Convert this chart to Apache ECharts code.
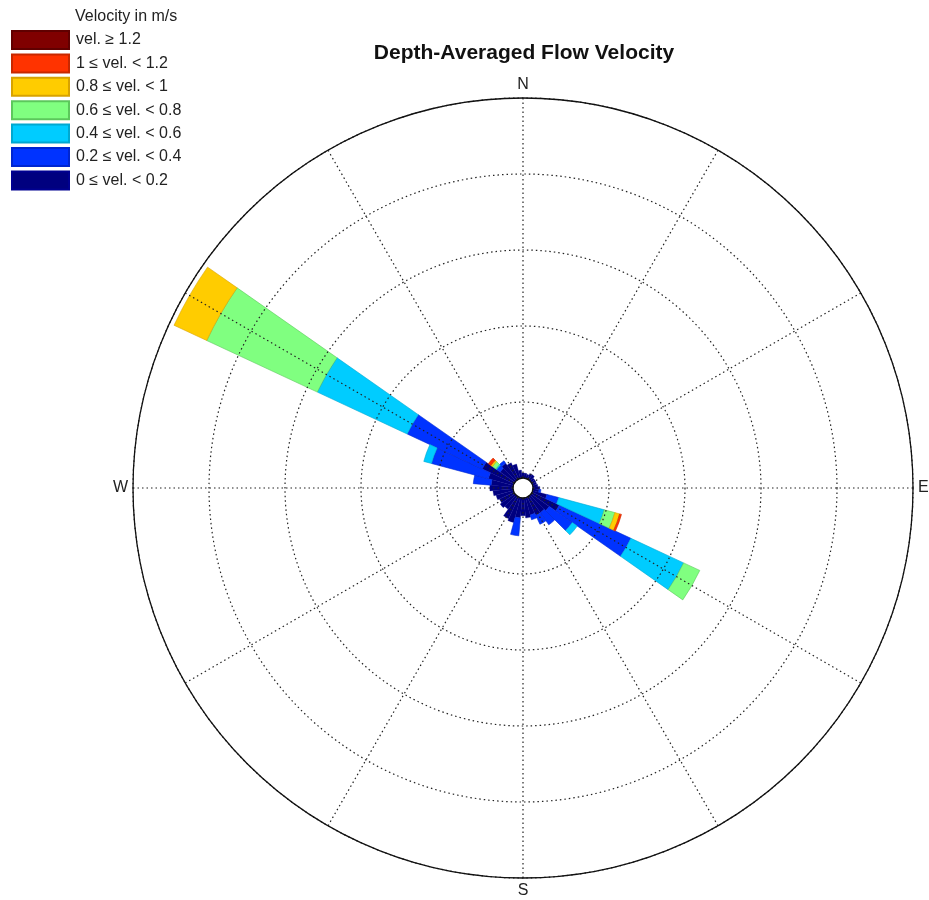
<!DOCTYPE html>
<html><head><meta charset="utf-8">
<script src="https://cdn.jsdelivr.net/npm/echarts@6/dist/echarts.min.js"></script>
<style>html,body{margin:0;padding:0;background:#fff}#c{width:929px;height:900px}</style>
</head><body><div id="c"></div>
<script>
// Direction bins (degrees, clockwise from North)
const directions = [0,10,20,30,40,50,60,70,80,90,100,110,120,130,140,150,160,170,180,190,200,210,220,230,240,250,260,270,280,290,300,310,320,330,340,350];
// Stacked frequency increments per velocity class (radial units, outer ring = 10)
const vel0to02 = [0.13,0.13,0.11,0.16,0.16,0.11,0.11,0.11,0.13,0.18,0.16,0.39,0.79,0.58,0.53,0.53,0.47,0.53,0.47,0.53,0.68,0.63,0.42,0.47,0.42,0.47,0.53,0.61,0.58,0.68,0.92,0.47,0.53,0.47,0.39,0.21];
const vel02to04 = [0,0,0,0,0,0,0,0,0,0,0.05,0.32,2.08,0.74,0.39,0.26,0.13,0,0,0.47,0,0,0,0,0,0,0,0,0.47,1.55,2.18,0.11,0.08,0,0,0];
const vel04to06 = [0,0,0,0,0,0,0,0,0,0,0,1.24,1.53,0.16,0,0,0,0,0,0,0,0,0,0,0,0,0,0,0,0.21,2.61,0.03,0,0,0,0];
const vel06to08 = [0,0,0,0,0,0,0,0,0,0,0,0.29,0.47,0,0,0,0,0,0,0,0,0,0,0,0,0,0,0,0,0,3.21,0.11,0,0,0,0];
const vel08to1  = [0,0,0,0,0,0,0,0,0,0,0,0.13,0,0,0,0,0,0,0,0,0,0,0,0,0,0,0,0,0,0,0.95,0.05,0,0,0,0];
const vel1to12  = [0,0,0,0,0,0,0,0,0,0,0,0.05,0,0,0,0,0,0,0,0,0,0,0,0,0,0,0,0,0,0,0,0.08,0,0,0,0];
const vel12up   = [0,0,0,0,0,0,0,0,0,0,0,0,0,0,0,0,0,0,0,0,0,0,0,0,0,0,0,0,0,0,0,0,0,0,0,0];

const classNames = ['0 ≤ vel. < 0.2','0.2 ≤ vel. < 0.4','0.4 ≤ vel. < 0.6','0.6 ≤ vel. < 0.8','0.8 ≤ vel. < 1','1 ≤ vel. < 1.2','vel. ≥ 1.2'];
const classData = [vel0to02, vel02to04, vel04to06, vel06to08, vel08to1, vel1to12, vel12up];
const compassLabels = {0:'N', 90:'E', 180:'S', 270:'W'};
const radialMax = 10, radialStep = 2;

const colors  = ['#00007F','#0033FF','#00CCFF','#80FF80','#FFCC00','#FF3300','#800000'];
const borders = ['#000090','#0026D0','#00A8D0','#5CC85C','#D8A200','#C82800','#600000'];
const borderW = [0.3, 0.6, 0.6, 0.6, 0.6, 0.6, 0.6];
const FONT = '"Liberation Sans", Arial, Helvetica, sans-serif';
const C = [523, 488];

const chart = echarts.init(document.getElementById('c'));
const series = classData.map((arr, i) => ({
  name: classNames[i],
  type: 'bar',
  coordinateSystem: 'polar',
  polarIndex: 0,
  stack: 'rose',
  barCategoryGap: '0%',
  data: arr.map(v => v > 0 ? v : '-'),
  itemStyle: { color: colors[i], borderColor: borders[i], borderWidth: borderW[i] },
  emphasis: { disabled: true },
  animation: false
}));

const dotted = { color: '#222', width: 1.2, type: [1.5, 3] };

chart.setOption({
  animation: false,
  backgroundColor: '#fff',
  graphic: [
    { type: 'text', x: 524, y: 53, style: { text: 'Depth-Averaged Flow Velocity', font: 'bold 21px ' + FONT, fill: '#111', textAlign: 'center', textVerticalAlign: 'middle' } },
    { type: 'text', x: 75, y: 17, style: { text: 'Velocity in m/s', font: '16px ' + FONT, fill: '#222', textAlign: 'left', textVerticalAlign: 'middle' } }
  ],
  legend: {
    data: classNames.slice().reverse(),
    orient: 'vertical',
    left: 11, top: 30, padding: 0,
    itemWidth: 57, itemHeight: 18, itemGap: 3.4,
    icon: 'rect',
    selectedMode: false,
    textStyle: { fontSize: 16, color: '#222', fontFamily: FONT, padding: [0, 0, 0, 2] }
  },
  polar: [
    { center: C, radius: [10, 390] },
    { center: C, radius: [10, 390] }
  ],
  angleAxis: [
    { polarIndex: 0, type: 'category', data: directions.map(String), startAngle: 95, clockwise: true,
      boundaryGap: true, axisLine: { show: false }, axisTick: { show: false }, axisLabel: { show: false }, splitLine: { show: false } },
    { polarIndex: 1, type: 'value', min: 0, max: 360, interval: 30, startAngle: 90, clockwise: true, z: 10,
      axisLine: { show: true, lineStyle: { color: '#111', width: 1.3 } },
      axisTick: { show: false },
      axisLabel: { show: true, margin: 5, fontSize: 16, color: '#222', fontFamily: FONT, formatter: v => compassLabels[v] || '' },
      splitLine: { show: true, lineStyle: dotted } }
  ],
  radiusAxis: [
    { polarIndex: 0, type: 'value', min: 0, max: radialMax, show: false, axisLine:{show:false}, axisLabel:{show:false}, splitLine:{show:false}, axisTick:{show:false} },
    { polarIndex: 1, type: 'value', min: 0, max: radialMax, interval: radialStep, z: 10,
      axisLine: { show: false }, axisTick: { show: false }, axisLabel: { show: false },
      splitLine: { show: true, lineStyle: dotted } }
  ],
  series: series
});
</script></body></html>
